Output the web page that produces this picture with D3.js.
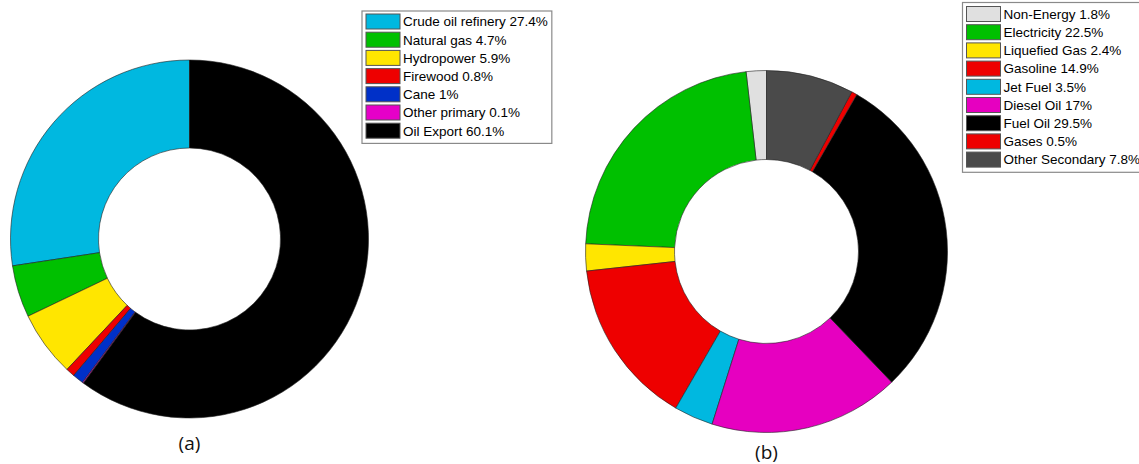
<!DOCTYPE html>
<html>
<head>
<meta charset="utf-8">
<script src="https://cdn.jsdelivr.net/npm/d3@7"></script>
<style>
  html, body { margin: 0; padding: 0; background: #fff; }
  svg { display: block; }
  .legend text { font-family: "Liberation Sans", Arial, sans-serif; font-size: 13.5px; fill: #000; }
  .panel-label { font-family: "Open Sans", "DejaVu Sans", sans-serif; font-size: 19px; fill: #111; }
</style>
</head>
<body>
<svg id="chart" width="1139" height="464"></svg>
<script>
// Primary energy supply shares (panel a)
const primaryLabels = ["Crude oil refinery", "Natural gas", "Hydropower", "Firewood", "Cane", "Other primary", "Oil Export"];
const primaryValues = [27.4, 4.7, 5.9, 0.8, 1, 0.1, 60.1];
const primaryColors = ["#00b8e0", "#00c000", "#ffe600", "#ee0000", "#0030c8", "#e600c8", "#000000"];

// Secondary energy consumption shares (panel b)
const secondaryLabels = ["Non-Energy", "Electricity", "Liquefied Gas", "Gasoline", "Jet Fuel", "Diesel Oil", "Fuel Oil", "Gases", "Other Secondary"];
const secondaryValues = [1.8, 22.5, 2.4, 14.9, 3.5, 17, 29.5, 0.5, 7.8];
const secondaryColors = ["#e0e0e0", "#00c000", "#ffe600", "#ee0000", "#00b8e0", "#e600c0", "#000000", "#ee0000", "#4a4a4a"];

const svg = d3.select("#chart");

// slices run counter-clockwise from 12 o'clock, in legend order
const pie = d3.pie().sort(null).startAngle(0).endAngle(-2 * Math.PI);

function donut(opts) {
  const data = opts.labels.map((l, i) => ({ label: l, value: opts.values[i], color: opts.colors[i] }));
  const arc = d3.arc().innerRadius(opts.inner).outerRadius(opts.outer);
  const g = svg.append("g").attr("transform", `translate(${opts.cx},${opts.cy})`);
  g.selectAll("path").data(pie.value((d) => d.value)(data)).join("path")
    .attr("d", arc)
    .attr("fill", (d) => d.data.color)
    .attr("stroke", "#222")
    .attr("stroke-width", 0.6);

  // legend box
  const rowH = 18.2, swW = 34, swH = 15;
  const lg = svg.append("g").attr("class", "legend")
    .attr("transform", `translate(${opts.lx},${opts.ly})`);
  const box = lg.append("rect")
    .attr("x", 0).attr("y", 0)
    .attr("fill", "#fff").attr("stroke", "#8a8a8a").attr("stroke-width", 1.2);
  const rows = lg.selectAll("g.row").data(data).join("g").attr("class", "row")
    .attr("transform", (d, i) => `translate(4,${opts.padTop + i * rowH})`);
  rows.append("rect")
    .attr("width", swW).attr("height", swH)
    .attr("fill", (d) => d.color)
    .attr("stroke", "#555").attr("stroke-width", 1);
  rows.append("text")
    .attr("x", swW + 3).attr("y", swH / 2).attr("dy", "0.36em")
    .text((d) => `${d.label} ${d.value}%`);
  let maxW = 0;
  rows.selectAll("text").each(function () { maxW = Math.max(maxW, this.getComputedTextLength()); });
  box.attr("width", 4 + swW + 3 + maxW + 4)
    .attr("height", opts.padTop + data.length * rowH + 2);

  svg.append("text").attr("class", "panel-label")
    .attr("x", opts.cx).attr("y", opts.labelY)
    .attr("text-anchor", "middle").text(opts.tag);
}

donut({
  labels: primaryLabels, values: primaryValues, colors: primaryColors,
  cx: 189.5, cy: 239, outer: 179, inner: 91,
  lx: 362, ly: 11, padTop: 3, labelY: 450, tag: "(a)"
});

donut({
  labels: secondaryLabels, values: secondaryValues, colors: secondaryColors,
  cx: 766.5, cy: 251.5, outer: 181, inner: 92,
  lx: 962.5, ly: 2.5, padTop: 4, labelY: 459, tag: "(b)"
});
</script>
</body>
</html>
